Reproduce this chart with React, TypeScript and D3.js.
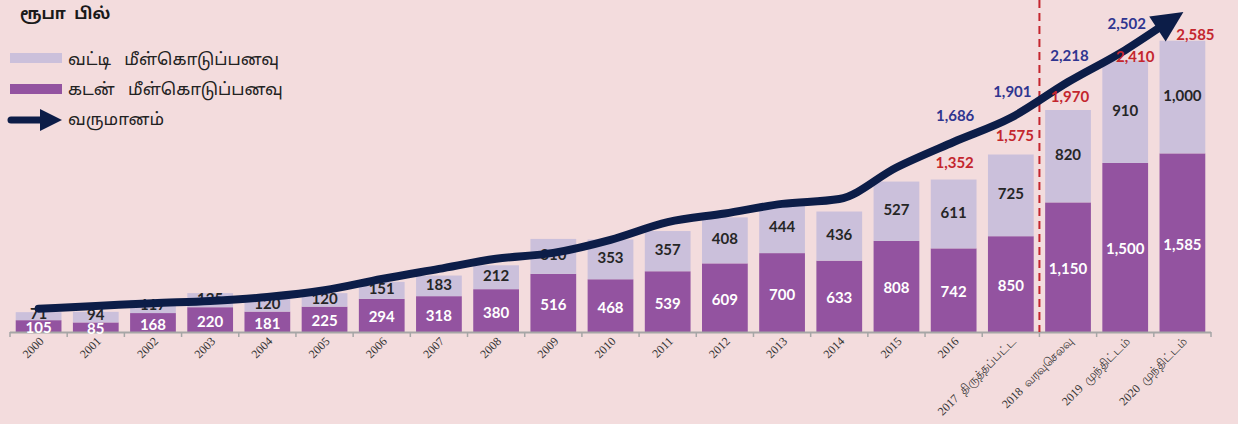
import React, { useEffect, useRef } from "react";
import * as d3 from "d3";

// data (rupees, billions)
const years = [
  "2000", "2001", "2002", "2003", "2004", "2005", "2006", "2007", "2008", "2009",
  "2010", "2011", "2012", "2013", "2014", "2015", "2016",
  "2017\u00a0\u00a0திருத்தப்பட்ட", "2018\u00a0\u00a0வரவுசெலவு", "2019\u00a0\u00a0முந்திட்டம்", "2020\u00a0\u00a0முந்திட்டம்",
];
const loanRepayment = [105, 85, 168, 220, 181, 225, 294, 318, 380, 516, 468, 539, 609, 700, 633, 808, 742, 850, 1150, 1500, 1585];
const interestRepayment = [71, 94, 117, 125, 120, 120, 151, 183, 212, 310, 353, 357, 408, 444, 436, 527, 611, 725, 820, 910, 1000];
const totalLabelYears = years.slice(16);
const totalLabels = [1352, 1575, 1970, 2410, 2585];
// revenue 2000-2019 (line), labels only for the last four
const revenue = [207, 231, 256, 276, 310, 370, 470, 560, 650, 702, 818, 975, 1052, 1137, 1180, 1460, 1686, 1901, 2218, 2502];
const revenueLabelYears = years.slice(16, 20);
const revenueLabels = [1686, 1901, 2218, 2502];
const arrowTipValue = 2840; // where the arrow head points, at the 2020 column

const BG = "#f3dcdd";
const PURPLE = "#9353a0";
const LAVENDER = "#cbc0db";
const NAVY = "#0c1d48";
const RED = "#c4262e";
const BLUE = "#2f3590";
const NUM_FONT = "Lato, 'Open Sans', sans-serif";
const TAMIL_FONT = "'Noto Sans Tamil', Latha, 'Noto Sans', sans-serif";
const NB = "\u00a0";

function drawChart(container: SVGSVGElement) {
  const width = 1238;
  const height = 424;
  const svg = d3.select(container);
  svg.selectAll("*").remove();

  svg.append("rect").attr("width", width).attr("height", height).attr("fill", BG);

  const x = d3.scaleBand().domain(years).range([10, 1211]).paddingInner(0.2).paddingOuter(0.1);
  const y = d3.scaleLinear().domain([0, 2600]).range([332, 39]);
  const cx = (d: string) => (x(d) as number) + x.bandwidth() / 2;
  const fmt = d3.format(",");

  // bars
  const bars = svg.append("g");
  years.forEach((yr, i) => {
    const loan = loanRepayment[i];
    const intr = interestRepayment[i];
    bars.append("rect")
      .attr("x", x(yr) as number)
      .attr("y", y(loan))
      .attr("width", x.bandwidth())
      .attr("height", y(0) - y(loan))
      .attr("fill", PURPLE);
    bars.append("rect")
      .attr("x", x(yr) as number)
      .attr("y", y(loan + intr))
      .attr("width", x.bandwidth())
      .attr("height", y(loan) - y(loan + intr))
      .attr("fill", LAVENDER);
  });

  // axis
  const step = x.step();
  const axis = svg.append("g");
  axis.append("line")
    .attr("x1", 10).attr("x2", 1211)
    .attr("y1", 332.5).attr("y2", 332.5)
    .attr("stroke", "#a6a6a6").attr("stroke-width", 2);
  d3.range(years.length + 1).forEach((k) => {
    const tx = 10 + k * step;
    axis.append("line")
      .attr("x1", tx).attr("x2", tx)
      .attr("y1", 332).attr("y2", 337)
      .attr("stroke", "#a6a6a6").attr("stroke-width", 1.5);
  });
  years.forEach((yr) => {
    axis.append("text")
      .attr("transform", `translate(${cx(yr) + 4},340) rotate(-45)`)
      .attr("text-anchor", "end")
      .attr("dominant-baseline", "middle")
      .style("font-family", "'Liberation Serif', 'Times New Roman', serif")
      .style("font-size", "12px")
      .style("fill", "#333")
      .text(yr);
  });

  // bar value labels
  const labels = svg.append("g").style("font-family", NUM_FONT).style("font-weight", 700).style("font-size", "15px");
  years.forEach((yr, i) => {
    const loan = loanRepayment[i];
    const intr = interestRepayment[i];
    const yLoan = (y(0) + y(loan)) / 2 + 1;
    const yIntr = Math.min((y(loan) + y(loan + intr)) / 2 - 2, yLoan - 14);
    labels.append("text")
      .attr("x", cx(yr))
      .attr("y", yLoan)
      .attr("text-anchor", "middle")
      .attr("dominant-baseline", "central")
      .style("fill", "#fff")
      .text(fmt(loan));
    labels.append("text")
      .attr("x", cx(yr))
      .attr("y", yIntr)
      .attr("text-anchor", "middle")
      .attr("dominant-baseline", "central")
      .style("fill", "#262626")
      .text(fmt(intr));
  });

  // dashed divider between actuals and estimates
  svg.append("line")
    .attr("x1", 10 + 18 * step).attr("x2", 10 + 18 * step)
    .attr("y1", 0).attr("y2", 332)
    .attr("stroke", RED).attr("stroke-width", 2)
    .attr("stroke-dasharray", "8,5");

  // revenue line with arrow head
  const pts: [number, number][] = revenue.map((v, i) => [cx(years[i]), y(v)]);
  const tip: [number, number] = [cx(years[years.length - 1]) + 1, y(arrowTipValue)];
  const last = pts[pts.length - 1];
  const dx = tip[0] - last[0];
  const dy = tip[1] - last[1];
  const len = Math.hypot(dx, dy);
  const ux = dx / len;
  const uy = dy / len;
  const headLen = 31;
  const headHalf = 15;
  const base: [number, number] = [tip[0] - ux * headLen, tip[1] - uy * headLen];
  const lineGen = d3.line().curve(d3.curveMonotoneX);
  svg.append("path")
    .attr("d", lineGen([...pts, [base[0] + ux * 3, base[1] + uy * 3]]))
    .attr("fill", "none")
    .attr("stroke", NAVY)
    .attr("stroke-width", 8)
    .attr("stroke-linecap", "round")
    .attr("stroke-linejoin", "round");
  svg.append("polygon")
    .attr("points", [
      tip,
      [base[0] - uy * headHalf, base[1] + ux * headHalf],
      [base[0] + uy * headHalf, base[1] - ux * headHalf],
    ].map((p) => p.join(",")).join(" "))
    .attr("fill", NAVY);

  // total labels (red) and revenue labels (blue); nudges keep them as placed in the original
  const totalNudge = [[1, -18], [4, -20], [2, -14], [10, -4], [13, -7]];
  const top = svg.append("g").style("font-family", NUM_FONT).style("font-size", "15px").style("font-weight", 700);
  totalLabelYears.forEach((yr, i) => {
    top.append("text")
      .attr("x", cx(yr) + totalNudge[i][0])
      .attr("y", y(totalLabels[i]) + totalNudge[i][1])
      .attr("text-anchor", "middle")
      .attr("dominant-baseline", "central")
      .style("fill", RED)
      .text(fmt(totalLabels[i]));
  });
  revenueLabelYears.forEach((yr, i) => {
    top.append("text")
      .attr("x", cx(yr) + 1.5)
      .attr("y", y(revenueLabels[i]) - 27)
      .attr("text-anchor", "middle")
      .attr("dominant-baseline", "central")
      .style("fill", BLUE)
      .text(fmt(revenueLabels[i]));
  });

  // title + legend
  svg.append("text")
    .attr("x", 20).attr("y", 15)
    .attr("dominant-baseline", "central")
    .style("font-family", TAMIL_FONT)
    .style("font-size", "16px")
    .style("font-weight", 700)
    .style("fill", "#1a1a1a")
    .text(`ரூபா${NB} பில்`);

  const legend = svg.append("g")
    .style("font-family", TAMIL_FONT)
    .style("font-size", "17px")
    .style("fill", "#222");
  legend.append("rect").attr("x", 10).attr("y", 53).attr("width", 52).attr("height", 10).attr("fill", LAVENDER);
  legend.append("text").attr("x", 68).attr("y", 60).attr("dominant-baseline", "central").text(`வட்டி${NB}${NB}${NB}மீள்கொடுப்பனவு`);
  legend.append("rect").attr("x", 10).attr("y", 84).attr("width", 52).attr("height", 10).attr("fill", PURPLE);
  legend.append("text").attr("x", 68).attr("y", 90).attr("dominant-baseline", "central").text(`கடன்${NB}${NB}${NB}மீள்கொடுப்பனவு`);
  legend.append("line")
    .attr("x1", 11).attr("x2", 44).attr("y1", 120).attr("y2", 120)
    .attr("stroke", NAVY).attr("stroke-width", 7).attr("stroke-linecap", "round");
  legend.append("polygon").attr("points", "40,109 62,120 40,131").attr("fill", NAVY);
  legend.append("text").attr("x", 68).attr("y", 120).attr("dominant-baseline", "central").text("வருமானம்");
}

export default function App() {
  const ref = useRef<SVGSVGElement>(null);

  useEffect(() => {
    document.body.style.margin = "0";
    if (ref.current) drawChart(ref.current);
  }, []);

  return <svg ref={ref} width={1238} height={424} style={{ display: "block" }} />;
}
